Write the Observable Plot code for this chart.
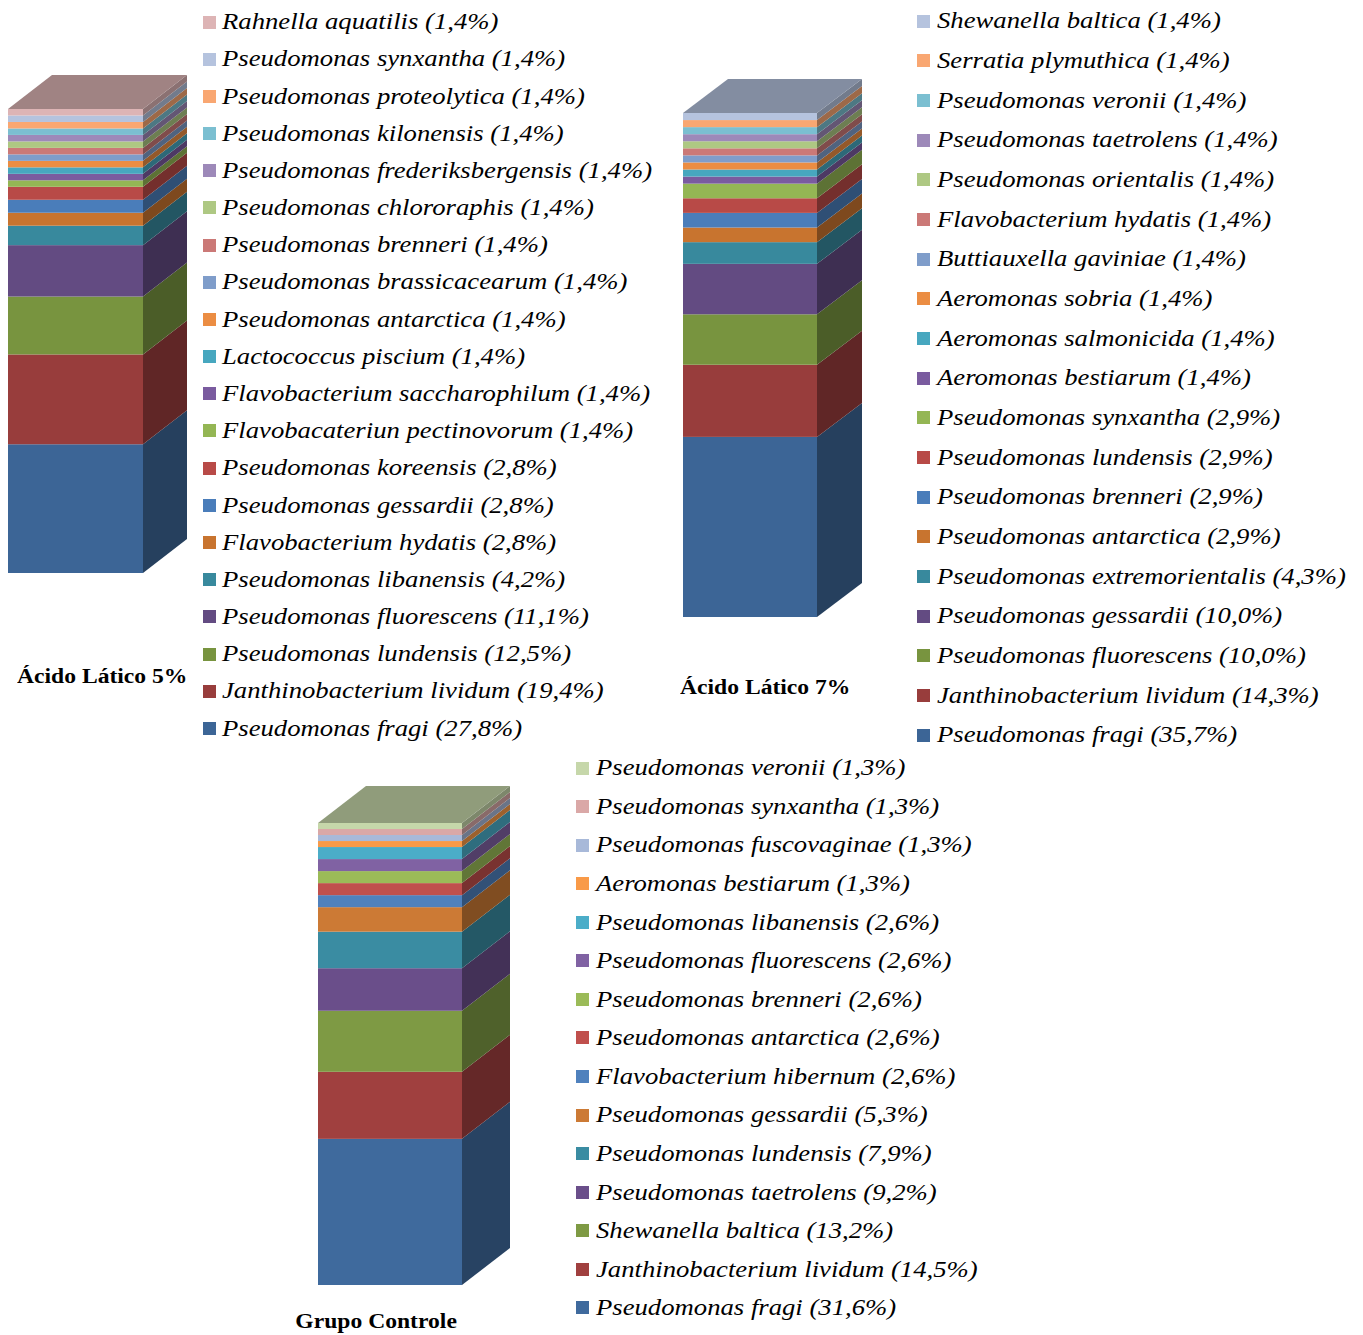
<!DOCTYPE html>
<html><head><meta charset="utf-8">
<script src="https://cdn.jsdelivr.net/npm/d3@7"></script>
<script src="https://cdn.jsdelivr.net/npm/@observablehq/plot@0.6"></script>
<style>
body{margin:0;background:#fff;}
#root{position:relative;width:1363px;height:1335px;overflow:hidden;background:#fff;font-family:"Liberation Serif","Times New Roman",serif;color:#000;}
#root svg{position:absolute;left:0;top:0;}
.sw{position:absolute;width:13px;height:13px;}
.lt{position:absolute;white-space:nowrap;line-height:1;font-size:23px;font-style:italic;transform:scaleX(1.16);transform-origin:0 50%;}
.title{position:absolute;white-space:nowrap;line-height:1;font-size:20px;font-weight:bold;transform:scaleX(1.18);transform-origin:0 50%;}
</style></head><body><div id="root"></div>
<script>
// ---------- DATA (legend order, top to bottom) ----------
const names1 = ["Rahnella aquatilis","Pseudomonas synxantha","Pseudomonas proteolytica","Pseudomonas kilonensis","Pseudomonas frederiksbergensis","Pseudomonas chlororaphis","Pseudomonas brenneri","Pseudomonas brassicacearum","Pseudomonas antarctica","Lactococcus piscium","Flavobacterium saccharophilum","Flavobacateriun pectinovorum","Pseudomonas koreensis","Pseudomonas gessardii","Flavobacterium hydatis","Pseudomonas libanensis","Pseudomonas fluorescens","Pseudomonas lundensis","Janthinobacterium lividum","Pseudomonas fragi"];
const values1 = [1.4,1.4,1.4,1.4,1.4,1.4,1.4,1.4,1.4,1.4,1.4,1.4,2.8,2.8,2.8,4.2,11.1,12.5,19.4,27.8];

const names2 = ["Shewanella baltica","Serratia plymuthica","Pseudomonas veronii","Pseudomonas taetrolens","Pseudomonas orientalis","Flavobacterium hydatis","Buttiauxella gaviniae","Aeromonas sobria","Aeromonas salmonicida","Aeromonas bestiarum","Pseudomonas synxantha","Pseudomonas lundensis","Pseudomonas brenneri","Pseudomonas antarctica","Pseudomonas extremorientalis","Pseudomonas gessardii","Pseudomonas fluorescens","Janthinobacterium lividum","Pseudomonas fragi"];
const values2 = [1.4,1.4,1.4,1.4,1.4,1.4,1.4,1.4,1.4,1.4,2.9,2.9,2.9,2.9,4.3,10.0,10.0,14.3,35.7];

const names3 = ["Pseudomonas veronii","Pseudomonas synxantha","Pseudomonas fuscovaginae","Aeromonas bestiarum","Pseudomonas libanensis","Pseudomonas fluorescens","Pseudomonas brenneri","Pseudomonas antarctica","Flavobacterium hibernum","Pseudomonas gessardii","Pseudomonas lundensis","Pseudomonas taetrolens","Shewanella baltica","Janthinobacterium lividum","Pseudomonas fragi"];
const values3 = [1.3,1.3,1.3,1.3,2.6,2.6,2.6,2.6,2.6,5.3,7.9,9.2,13.2,14.5,31.6];

const titles = ["Ácido Lático 5%","Ácido Lático 7%","Grupo Controle"];

// ---------- STYLES ----------
const colors1 = ["#DDB4B5","#B5C3DE","#F9A772","#7BBFD1","#9D89B9","#AEC883","#CB7977","#7F9DCA","#EB8D43","#47A7BF","#7A5B9F","#94B654","#B84A47","#4A7DBA","#C8742F","#38899D","#634B82","#78943F","#983D3C","#3C6596"];
const colors2 = colors1.slice(1);
const colors3 = ["#C6D7AA","#DAA8A7","#A8B9D9","#F99A48","#4BADC8","#8062A3","#9BBB58","#C0504D","#4F81BD","#CC7A35","#3A8CA2","#6A4E8A","#7E9A44","#A0403F","#3F6A9D"];

const W = 1363, H = 1335;
const root = document.getElementById("root");
const fmt = v => v.toFixed(1).replace(".", ",");

function drawBar(names, values, colors, g) {
  const segs = [];
  let cum = 0;
  for (let i = names.length - 1; i >= 0; i--) {
    segs.push({name: names[i], y0: cum, y1: cum + values[i], color: colors[i]});
    cum += values[i];
  }
  const total = cum;
  const dxu = g.depthX / (g.frontRight - g.frontLeft);
  const dyu = g.depthY * total / (g.bottom - g.frontTop);
  const side = segs.flatMap(s => {
    const c = d3.rgb(s.color).darker(1.3).formatHex();
    return [{x: 1, lo: s.y0, hi: s.y1, k: s.name, c}, {x: 1 + dxu, lo: s.y0 + dyu, hi: s.y1 + dyu, k: s.name, c}];
  });
  const topC = d3.rgb(segs[segs.length - 1].color).darker(0.9).formatHex();
  const topFace = [
    {x: 0, lo: total, hi: total},
    {x: dxu, lo: total, hi: total + dyu},
    {x: 1, lo: total, hi: total + dyu},
    {x: 1 + dxu, lo: total + dyu, hi: total + dyu}
  ];
  const svg = Plot.plot({
    width: W, height: H,
    marginLeft: g.frontLeft, marginRight: W - (g.frontRight + g.depthX),
    marginTop: g.frontTop - g.depthY, marginBottom: H - g.bottom,
    style: "background: transparent; overflow: visible; max-width: none;",
    x: {domain: [0, 1 + dxu], axis: null},
    y: {domain: [0, total + dyu], axis: null},
    color: {type: "identity"},
    marks: [
      Plot.rect(segs, {x1: () => 0, x2: () => 1, y1: "y0", y2: "y1", fill: "color"}),
      Plot.areaY(side, {x: "x", y1: "lo", y2: "hi", z: "k", fill: "c"}),
      Plot.areaY(topFace, {x: "x", y1: "lo", y2: "hi", fill: topC})
    ]
  });
  root.appendChild(svg);
}

function drawLegend(names, values, colors, L) {
  names.forEach((nm, i) => {
    const cy = L.y0 + i * L.step;
    const sw = document.createElement("div");
    sw.className = "sw";
    sw.style.left = L.markerX + "px";
    sw.style.top = (cy - 6.5) + "px";
    sw.style.background = colors[i];
    root.appendChild(sw);
    const t = document.createElement("span");
    t.className = "lt";
    t.style.left = L.textX + "px";
    t.style.top = (cy + 7.5 - 0.8375 * 23) + "px";
    t.textContent = `${nm} (${fmt(values[i])}%)`;
    root.appendChild(t);
  });
}

function drawTitle(text, x, baseline) {
  const t = document.createElement("span");
  t.className = "title";
  t.style.left = x + "px";
  t.style.top = (baseline - 0.8375 * 20) + "px";
  t.textContent = text;
  root.appendChild(t);
  return t;
}

drawBar(names1, values1, colors1, {frontLeft: 8, frontRight: 143, depthX: 44, frontTop: 109, bottom: 573, depthY: 34});
drawBar(names2, values2, colors2, {frontLeft: 683, frontRight: 817, depthX: 45, frontTop: 113, bottom: 617, depthY: 34});
drawBar(names3, values3, colors3, {frontLeft: 318, frontRight: 462, depthX: 48, frontTop: 823, bottom: 1285, depthY: 37});

drawLegend(names1, values1, colors1, {markerX: 203, textX: 222, y0: 22, step: 37.18});
drawLegend(names2, values2, colors2, {markerX: 917, textX: 937, y0: 21, step: 39.67});
drawLegend(names3, values3, colors3, {markerX: 576, textX: 596, y0: 768, step: 38.57});

drawTitle(titles[0], 17, 683);
drawTitle(titles[1], 680, 694);

// third title: right edge at x = 457, kept fully inside the page
const t3 = drawTitle(titles[2], 0, 1328);
t3.style.left = "auto";
t3.style.right = (W - 457) + "px";
t3.style.transformOrigin = "100% 50%";
</script>
</body></html>
